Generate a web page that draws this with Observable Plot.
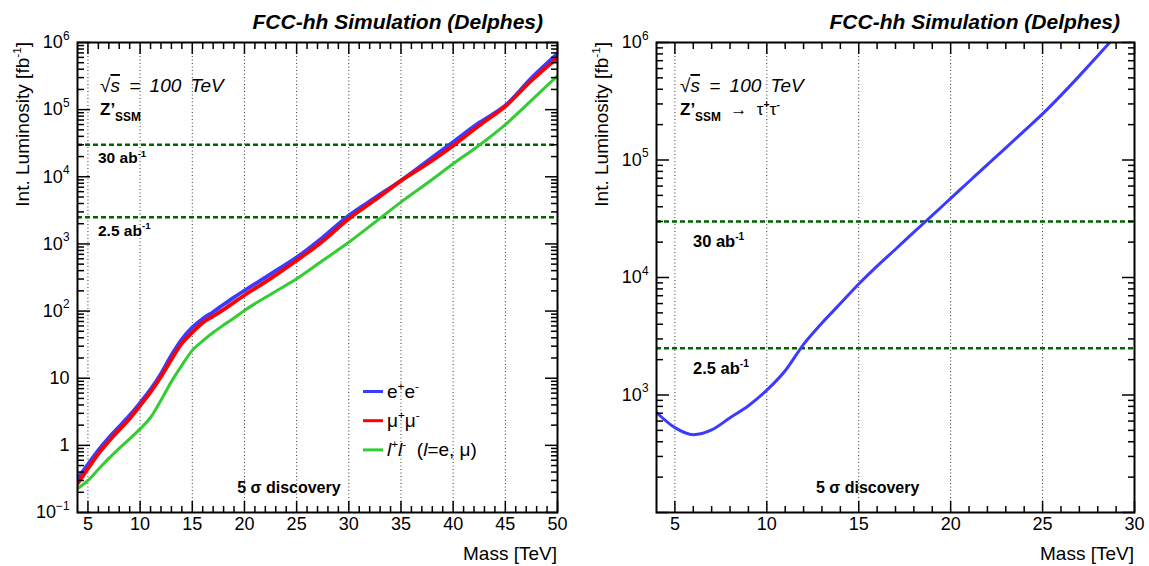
<!DOCTYPE html>
<html><head><meta charset="utf-8">
<script src="https://cdn.jsdelivr.net/npm/d3@7"></script>
<script src="https://cdn.jsdelivr.net/npm/@observablehq/plot@0.6"></script>
<style>
body{margin:0;background:#fff;}
#wrap{position:relative;width:1149px;height:566px;overflow:hidden;background:#fff;}
#wrap svg{position:absolute;top:0;}
</style></head><body><div id="wrap"></div>
<script>
// ---------- data ----------
const massLL = [4,5,6,7,8,9,10,11,12,13,14,15,16,17,18,19,20,22.5,25,27.5,30,32.5,35,37.5,40,42.5,45,47.5,50];
const lumiEE = [0.32,0.52,0.85,1.3,1.9,2.8,4.3,6.8,11.7,22,38,57,77,97,125,160,202,355,630,1250,2650,4850,8800,17000,33000,64000,115000,295000,680000];
const lumiMM = [0.27,0.45,0.75,1.15,1.7,2.5,3.9,6.2,10.5,19,33,48,67,84,105,135,172,305,566,1100,2370,4500,8700,15500,29000,58000,112000,270000,590000];
const lumiLL = [0.225,0.3,0.44,0.64,0.9,1.25,1.76,2.6,4.7,8.9,15.5,26,36,48,62,79,102,177,302,566,1060,2100,4200,8000,15600,29500,60000,137000,320000];
const massTT = [4,5,6,7,8,9,10,11,12,13,14,15,16,17,18,19,20,21,22,23,24,25,26,27,28,29];
const lumiTT = [710,528,460,505,640,810,1100,1610,2700,4100,6000,8800,12500,17400,24300,33800,47100,65600,91400,127000,177000,247000,355000,520000,770000,1150000];
const lumiTargets = [30000, 2500];            // 30 ab^-1 and 2.5 ab^-1 in fb^-1
const xMajorLeft = [5,10,15,20,25,30,35,40,45,50];
const xMajorRight = [5,10,15,20,25,30];
const yMajorLeft = [1e-1,1,10,1e2,1e3,1e4,1e5,1e6];
const yMajorRight = [1e2,1e3,1e4,1e5,1e6];
const yLabelsRight = [1e3,1e4,1e5,1e6];
const legendNames = ["e+e-", "mu+mu-", "l+l- (l=e, mu)"];

// ---------- helpers ----------
const FONT = "'Liberation Sans', Arial, Helvetica, sans-serif";
const SUP = {"0":"⁰","1":"¹","2":"²","3":"³","4":"⁴","5":"⁵","6":"⁶","7":"⁷","8":"⁸","9":"⁹","-":"⁻"};
const UNSUP = {"⁰":"0","¹":"1","²":"2","³":"3","⁴":"4","⁵":"5","⁶":"6","⁷":"7","⁸":"8","⁹":"9","⁻":"−"};
function powFmt(v){
  const e = Math.round(Math.log10(v));
  if (e === 0) return "1";
  if (e === 1) return "10";
  return "10" + String(e).split("").map(c => SUP[c]).join("");
}
const noLabel = () => "";
function minorsInt(lo, hi){ const a=[]; for(let i=lo;i<=hi;i++) if(i%5!==0) a.push(i); return a; }
function minorsLog(lo, hi){ const a=[]; for(let e=lo;e<hi;e++) for(let m=2;m<=9;m++) a.push(m*Math.pow(10,e)); return a; }
function rows(mass, lumi){ return mass.map((m,i)=>({mass:m, lumi:lumi[i]})); }

function rich(g, x, y, parts, o={}){
  const size = o.size || 18;
  const t = g.append("text").attr("x", x).attr("y", y)
    .attr("font-size", size).attr("font-family", FONT)
    .attr("font-weight", o.weight || "normal").attr("font-style", o.style || "normal")
    .attr("text-anchor", o.anchor || "start").attr("fill", "black")
    .style("white-space", "pre");
  if (o.wordSpacing) t.style("word-spacing", o.wordSpacing + "px");
  if (o.transform) t.attr("transform", o.transform);
  let cur = 0;
  for (const p of parts){
    const s = typeof p === "string" ? {t:p} : p;
    const target = s.sup ? -(s.rise ?? 0.42) * size : s.sub ? (s.drop ?? 0.38) * size : 0;
    const ts = t.append("tspan").text(s.t).attr("dy", target - cur);
    if (s.sup || s.sub) ts.attr("font-size", (s.scale ?? 0.62) * size);
    if (s.size) ts.attr("font-size", s.size);
    if (s.style) ts.attr("font-style", s.style);
    if (s.weight) ts.attr("font-weight", s.weight);
    if (s.deco) ts.attr("text-decoration", s.deco);
    cur = target;
  }
  return t;
}

function fixSuperscripts(svg){
  d3.select(svg).selectAll('g[aria-label="y-axis tick label"] text').each(function(){
    const s = this.textContent;
    const m = s.match(/^10([⁰¹²³⁴⁵⁶⁷⁸⁹⁻]+)$/);
    if (!m) return;
    const exp = [...m[1]].map(c => UNSUP[c]).join("");
    const sel = d3.select(this); sel.text(null);
    sel.append("tspan").text("10");
    sel.append("tspan").text(exp).attr("dy", "-0.72em").attr("font-size", "0.66em");
  });
}

function tickMarks(xMajor, xMinor, yMajor, yMinor, yLabels){
  const w = 1.5;
  const t = {tickFormat:noLabel, label:null, strokeWidth:w};
  return [
    Plot.axisX(xMajor, {anchor:"bottom", tickSize:-11, ...t}),
    Plot.axisX(xMinor, {anchor:"bottom", tickSize:-6, ...t}),
    Plot.axisX(xMajor, {anchor:"top", tickSize:-11, ...t}),
    Plot.axisX(xMinor, {anchor:"top", tickSize:-6, ...t}),
    Plot.axisY(yMajor, {anchor:"left", tickSize:-13, ...t}),
    Plot.axisY(yMinor, {anchor:"left", tickSize:-7, ...t}),
    Plot.axisY(yMajor, {anchor:"right", tickSize:-13, ...t}),
    Plot.axisY(yMinor, {anchor:"right", tickSize:-7, ...t}),
    Plot.axisX(xMajor, {anchor:"bottom", tickSize:0, tickPadding:5, tickFormat:d=>String(d), label:null}),
    Plot.axisY(yLabels, {anchor:"left", tickSize:0, tickPadding:8, tickFormat:powFmt, label:null})
  ];
}

const styleObj = {fontFamily: FONT, fontSize: "18px", color: "black", background: "white", overflow: "visible"};
const wrap = document.getElementById("wrap");

// ---------- left panel ----------
const left = Plot.plot({
  width: 574, height: 566,
  marginLeft: 77, marginRight: 17, marginTop: 42, marginBottom: 54,
  style: styleObj,
  x: {domain: [4, 50]},
  y: {type: "log", domain: [0.1, 1e6]},
  marks: [
    Plot.gridX(xMajorLeft, {stroke:"#333", strokeOpacity:1, strokeDasharray:"1,2.5", strokeWidth:1}),
    Plot.ruleY(lumiTargets, {stroke:"#006400", strokeWidth:2.5, strokeDasharray:"5,3"}),
    Plot.line(rows(massLL, lumiEE), {x:"mass", y:"lumi", stroke:"#3b3bff", strokeWidth:3.8, curve:"monotone-x", clip:true}),
    Plot.line(rows(massLL, lumiMM), {x:"mass", y:"lumi", stroke:"#ff0000", strokeWidth:3.8, curve:"monotone-x", clip:true}),
    Plot.line(rows(massLL, lumiLL), {x:"mass", y:"lumi", stroke:"#33cc33", strokeWidth:3, curve:"monotone-x", clip:true}),
    Plot.frame({stroke:"black", strokeWidth:2}),
    ...tickMarks(xMajorLeft, minorsInt(5,49), yMajorLeft, minorsLog(-1,6), yMajorLeft)
  ]
});
left.style.left = "0px";
wrap.appendChild(left);
fixSuperscripts(left);

// ---------- right panel ----------
const right = Plot.plot({
  width: 575, height: 566,
  marginLeft: 82, marginRight: 15, marginTop: 42, marginBottom: 54,
  style: styleObj,
  x: {domain: [4, 30]},
  y: {type: "log", domain: [100, 1e6]},
  marks: [
    Plot.gridX(xMajorRight, {stroke:"#333", strokeOpacity:1, strokeDasharray:"1,2.5", strokeWidth:1}),
    Plot.ruleY(lumiTargets, {stroke:"#006400", strokeWidth:2.5, strokeDasharray:"5,3"}),
    Plot.line(rows(massTT, lumiTT), {x:"mass", y:"lumi", stroke:"#3b3bff", strokeWidth:3, curve:"monotone-x", clip:true}),
    Plot.frame({stroke:"black", strokeWidth:2}),
    ...tickMarks(xMajorRight, minorsInt(5,29), yMajorRight, minorsLog(2,6), yLabelsRight)
  ]
});
right.style.left = "574px";
wrap.appendChild(right);
fixSuperscripts(right);

// ---------- annotations ----------
function annotate(svg, opts){
  const g = d3.select(svg).append("g");
  const sx = svg.scale("x"), sy = svg.scale("y");
  const x0 = sx.range[0], x1 = sx.range[1];
  const yTop = sy.range[1];
  rich(g, x1 - 14, 29, ["FCC-hh Simulation (Delphes)"], {size:21, weight:"bold", style:"italic", anchor:"end"});
  rich(g, x1, 560, ["Mass [TeV]"], {size:19, anchor:"end"});
  rich(g, 0, 0, ["Int. Luminosity [fb", {t:"-1", sup:true}, "]"], {size:19, anchor:"end", transform:`translate(${x0-48},${yTop}) rotate(-90)`});
  rich(g, x0 + opts.textDx, 92, [{t:"√"}, {t:"s", deco:"overline"}, " = 100 TeV"], {size:19, style:"italic", wordSpacing:4});
  rich(g, x0 + opts.textDx, 115, opts.model, {size:17, weight:"bold"});
  rich(g, x0 + opts.lumDx, sy.apply(30000) + opts.lumDy, ["30 ab", {t:"-1", sup:true}], {size:opts.lumSize, weight:"bold"});
  rich(g, x0 + opts.lumDx, sy.apply(2500) + opts.lumDy, ["2.5 ab", {t:"-1", sup:true}], {size:opts.lumSize, weight:"bold"});
  rich(g, sx.apply(opts.discX), 493, ["5 σ discovery"], {size:16, weight:"bold"});
  return g;
}

const gl = annotate(left, {textDx:23, lumDx:21, lumDy:19, lumSize:15.5, discX:19.35,
  model:["Z’", {t:"SSM", sub:true, scale:0.7}]});
annotate(right, {textDx:24, lumDx:37, lumDy:26, lumSize:16.5, discX:12.7,
  model:["Z’", {t:"SSM", sub:true, scale:0.7}, {t:"  →  ", weight:"normal"}, {t:"τ", weight:"normal"}, {t:"+", sup:true}, {t:"τ", weight:"normal"}, {t:"-", sup:true}]});

// legend (left panel)
const legendColors = ["#3b3bff", "#ff0000", "#33cc33"];
const legendParts = [
  ["e", {t:"+", sup:true}, "e", {t:"-", sup:true}],
  ["μ", {t:"+", sup:true}, "μ", {t:"-", sup:true}],
  [{t:"l", style:"italic"}, {t:"+", sup:true}, {t:"l", style:"italic"}, {t:"-", sup:true}, "  (", {t:"l", style:"italic"}, "=e, μ)"]
];
legendNames.forEach((name, i) => {
  const yy = 391.5 + i * 29.2;
  gl.append("line").attr("x1", 363).attr("x2", 383).attr("y1", yy).attr("y2", yy)
    .attr("stroke", legendColors[i]).attr("stroke-width", 3);
  rich(gl, 387, yy + 6.5, legendParts[i], {size:19}).attr("aria-label", name);
});
</script></body></html>
